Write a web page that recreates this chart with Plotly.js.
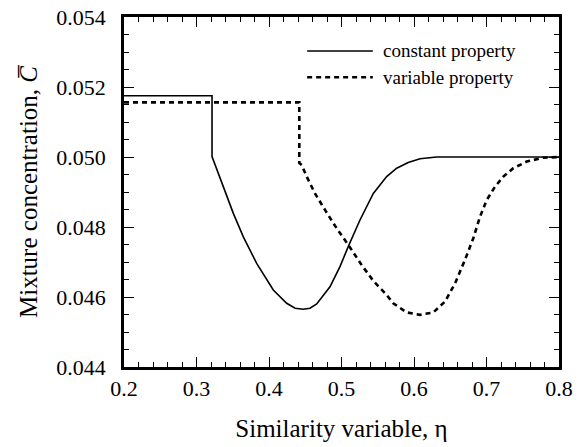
<!DOCTYPE html>
<html>
<head>
<meta charset="utf-8">
<script src="https://cdn.plot.ly/plotly-3.0.1.min.js"></script>
<style>html,body{margin:0;padding:0;background:#fff;}#chart{width:586px;height:447px;}</style>
</head>
<body>
<div id="chart"></div>
<script>
// Constant property (solid)
const etaConst = [0.2, 0.3214, 0.3214, 0.3370, 0.3508, 0.3646, 0.3830, 0.4059, 0.4244, 0.4360, 0.4473, 0.4565, 0.4658, 0.4841, 0.4979, 0.5103, 0.5255, 0.5439, 0.5623, 0.5761, 0.5920, 0.6083, 0.6313, 0.70, 0.80];
const cConst   = [0.05175, 0.05175, 0.05001, 0.04915, 0.04839, 0.04772, 0.04696, 0.0462, 0.04582, 0.04568, 0.04565, 0.04568, 0.04580, 0.04629, 0.04687, 0.04749, 0.0482, 0.04896, 0.04944, 0.04968, 0.04984, 0.04995, 0.05, 0.05, 0.05];
// Variable property (dashed)
const etaVar = [0.2, 0.4418, 0.4418, 0.4451, 0.4520, 0.4634, 0.4772, 0.4934, 0.5094, 0.5279, 0.5439, 0.5623, 0.5714, 0.5899, 0.6083, 0.6266, 0.6428, 0.6566, 0.6703, 0.6818, 0.6910, 0.7003, 0.7117, 0.7232, 0.7370, 0.7555, 0.7783, 0.80];
const cVar   = [0.05156, 0.05156, 0.04983, 0.04977, 0.04944, 0.04896, 0.04849, 0.04796, 0.04749, 0.04691, 0.04646, 0.04606, 0.04582, 0.04556, 0.04549, 0.04556, 0.04587, 0.04639, 0.04706, 0.04768, 0.04829, 0.04877, 0.04915, 0.04944, 0.04968, 0.04987, 0.04998, 0.05];
const seriesNames = ["constant property", "variable property"];
const xTicks = [0.2, 0.3, 0.4, 0.5, 0.6, 0.7, 0.8];
const xTickText = ["0.2", "0.3", "0.4", "0.5", "0.6", "0.7", "0.8"];
const yTicks = [0.044, 0.046, 0.048, 0.050, 0.052, 0.054];
const yTickText = ["0.044", "0.046", "0.048", "0.050", "0.052", "0.054"];

const FONT = "'Liberation Serif', 'DejaVu Serif', serif";
function fnt(size) { return {family: FONT, size: size, color: "#000"}; }

const lineStyles = [
  {color: "#000", width: 1.6},
  {color: "#000", width: 2.6, dash: "5px,4px"}
];

const traces = [
  {x: etaConst, y: cConst, name: seriesNames[0], mode: "lines", line: lineStyles[0], showlegend: false},
  {x: etaVar, y: cVar, name: seriesNames[1], mode: "lines", line: lineStyles[1], showlegend: false}
];

// Legend drawn as key lines + labels in paper space
const legendRows = [0.903, 0.828];
const legendShapes = seriesNames.map(function (n, i) {
  return {type: "line", xref: "paper", yref: "paper", x0: 0.421, x1: 0.572, y0: legendRows[i], y1: legendRows[i],
          line: Object.assign({}, lineStyles[i])};
});
const legendLabels = seriesNames.map(function (n, i) {
  return {text: n, xref: "paper", yref: "paper", x: 0.59, y: legendRows[i], xanchor: "left", yanchor: "middle",
          showarrow: false, font: fnt(19)};
});

const layout = {
  width: 586, height: 447,
  margin: {l: 124, r: 27, t: 17, b: 80},
  font: fnt(18),
  showlegend: false,
  shapes: legendShapes,
  annotations: legendLabels,
  xaxis: {
    range: [0.2, 0.8], tickmode: "array", tickvals: xTicks, ticktext: xTickText,
    showgrid: false, zeroline: false, showline: true, linecolor: "#000", linewidth: 2.5,
    mirror: "allticks", ticks: "inside", ticklen: 10, tickwidth: 1.2, tickcolor: "#000",
    tickfont: fnt(22),
    minor: {dtick: 0.02, ticks: "inside", ticklen: 5, tickwidth: 1.2, tickcolor: "#000"},
    title: {text: "Similarity variable, η", font: fnt(25), standoff: 20}
  },
  yaxis: {
    range: [0.044, 0.054], tickmode: "array", tickvals: yTicks,
    ticktext: yTickText.map(function (t) { return t + "\u00a0\u00a0"; }),
    showgrid: false, zeroline: false, showline: true, linecolor: "#000", linewidth: 2.5,
    mirror: "allticks", ticks: "inside", ticklen: 10, tickwidth: 1.2, tickcolor: "#000",
    tickfont: fnt(22),
    minor: {dtick: 0.0005, ticks: "inside", ticklen: 5, tickwidth: 1.2, tickcolor: "#000"},
    title: {text: "Mixture concentration, <i>C\u0305</i>", font: fnt(25), standoff: 12}
  }
};

Plotly.newPlot("chart", traces, layout, {displayModeBar: false});
</script>
</body>
</html>
